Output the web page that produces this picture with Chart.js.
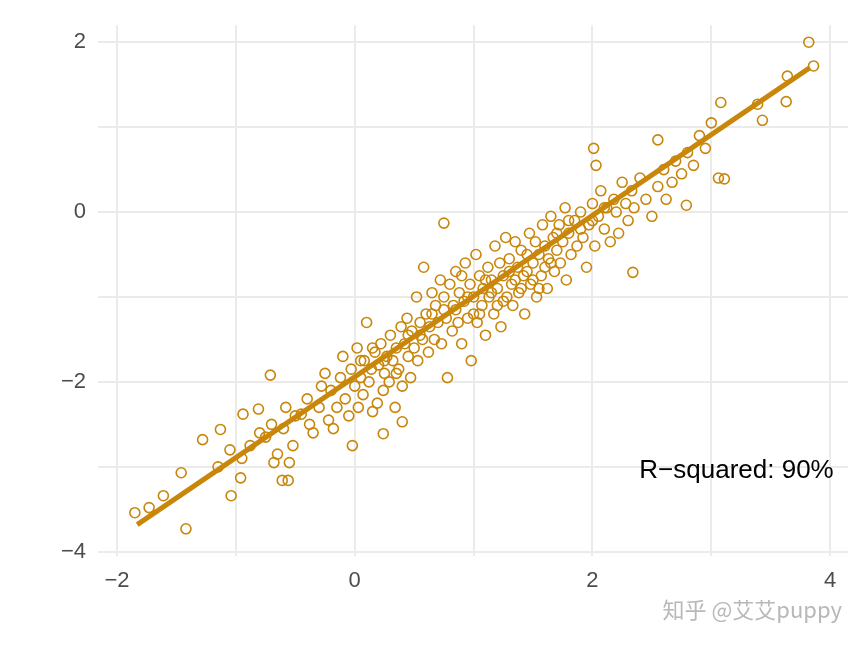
<!DOCTYPE html>
<html><head><meta charset="utf-8">
<script src="https://cdn.jsdelivr.net/npm/chart.js@4"></script>
<style>html,body{margin:0;padding:0;background:#fff}#w{width:864px;height:648px}</style>
</head><body><div id="w"><canvas id="c"></canvas></div>
<script>
const xValues=[3.82,3.86,3.64,3.39,3.63,3.43,3.08,3.06,3.11,2.79,2.34,0.75,-1.42,-1.85,-1.73,-1.61,-1.46,-1.28,-1.13,-0.94,-0.81,-0.71,-1.04,-0.96,-0.61,-0.56,-0.02,0.24,0.40,2.01,2.03,2.55,
-1.15,-1.05,-0.95,-0.88,-0.8,-0.75,-0.7,-0.68,-0.65,-0.6,-0.58,-0.55,-0.52,-0.5,-0.45,-0.4,-0.38,-0.35,-0.3,-0.28,-0.25,-0.22,-0.2,-0.18,-0.15,-0.12,-0.1,-0.08,-0.05,-0.03,0.0,0.02,0.03,0.05,0.07,0.08,0.1,0.12,0.14,0.15,0.17,0.19,0.2,0.22,0.24,0.25,0.27,0.29,0.3,0.32,0.34,0.35,0.37,0.39,0.4,0.42,0.44,0.45,0.47,0.48,0.5,0.52,0.53,0.55,0.57,0.58,0.6,0.62,0.63,0.65,0.67,0.68,0.7,0.72,0.73,0.75,0.77,0.78,0.8,0.82,0.83,0.85,0.87,0.88,0.9,0.92,0.93,0.95,0.97,0.98,1.0,1.02,1.03,1.05,1.07,1.08,1.1,1.12,1.13,1.15,1.17,1.18,1.2,1.22,1.23,1.25,1.27,1.28,1.3,1.32,1.33,1.35,1.37,1.38,1.4,1.42,1.43,1.45,1.47,1.48,1.5,1.52,1.53,1.55,1.57,1.58,1.6,1.62,1.63,1.65,1.67,1.68,1.7,1.72,1.73,1.75,1.77,1.78,1.8,1.82,1.85,1.87,1.9,1.92,1.95,1.97,2.0,2.02,2.05,2.07,2.1,2.12,2.15,2.18,2.2,2.22,2.25,2.28,2.3,2.33,2.35,2.4,2.45,2.5,2.55,2.6,2.62,2.67,2.7,2.75,2.8,2.85,2.9,2.95,3.0,
0.85,0.95,1.05,1.15,1.25,1.35,1.45,1.55,1.65,0.9,1.0,1.1,1.2,1.3,1.4,1.5,1.6,0.75,0.65,0.55,0.45,0.35,0.25,0.15,0.05,1.7,1.8,1.9,2.0,2.1];
const yValues=[2.0,1.72,1.60,1.27,1.30,1.08,1.29,0.40,0.39,0.08,-0.71,-0.13,-3.73,-3.54,-3.48,-3.34,-3.07,-2.68,-2.56,-2.38,-2.32,-1.92,-3.34,-3.13,-3.16,-3.16,-2.75,-2.61,-2.47,0.75,0.55,0.85,
-3.0,-2.8,-2.9,-2.75,-2.6,-2.65,-2.5,-2.95,-2.85,-2.55,-2.3,-2.95,-2.75,-2.4,-2.38,-2.2,-2.5,-2.6,-2.3,-2.05,-1.9,-2.45,-2.1,-2.55,-2.3,-1.95,-1.7,-2.2,-2.4,-1.85,-2.05,-1.6,-2.3,-1.95,-2.15,-1.75,-1.3,-2.0,-1.85,-2.35,-1.65,-2.25,-1.8,-1.55,-2.1,-1.9,-1.7,-2.0,-1.45,-1.75,-2.3,-1.6,-1.85,-1.35,-2.05,-1.55,-1.25,-1.7,-1.95,-1.4,-1.6,-1.0,-1.75,-1.3,-1.5,-0.65,-1.2,-1.65,-1.35,-0.95,-1.5,-1.1,-1.3,-0.8,-1.55,-1.0,-1.25,-1.95,-0.85,-1.4,-1.1,-0.7,-1.3,-0.95,-1.55,-1.05,-0.6,-1.25,-0.85,-1.75,-1.0,-0.5,-1.3,-0.75,-1.1,-0.9,-1.45,-0.65,-1.0,-0.8,-1.2,-0.4,-0.9,-0.6,-1.35,-0.75,-0.3,-1.0,-0.55,-0.85,-1.1,-0.35,-0.65,-0.95,-0.45,-0.75,-1.2,-0.5,-0.25,-0.85,-0.6,-0.35,-1.0,-0.5,-0.75,-0.15,-0.4,-0.9,-0.55,-0.05,-0.3,-0.7,-0.45,-0.15,-0.6,-0.35,0.05,-0.8,-0.25,-0.5,-0.1,-0.4,0.0,-0.3,-0.65,-0.15,0.1,-0.4,-0.05,0.25,-0.2,0.05,-0.35,0.15,0.0,-0.25,0.35,0.1,-0.1,0.25,0.05,0.4,0.15,-0.05,0.3,0.5,0.15,0.35,0.6,0.45,0.7,0.55,0.9,0.75,1.05,
-1.15,-1.0,-1.2,-0.95,-1.05,-0.8,-0.7,-0.9,-0.6,-0.75,-1.2,-0.8,-1.1,-0.7,-0.9,-0.8,-0.65,-1.15,-1.2,-1.45,-1.45,-1.9,-1.75,-1.6,-1.75,-0.25,-0.1,-0.2,-0.1,0.05];
const fitX=[-1.83,3.83];
const fitY=[-3.68,1.70];
const xTicks=[-2,0,2,4];
const yTicks=[-4,-2,0,2];
const col='#C8860A';
const pts=xValues.map((x,i)=>({x:x,y:yValues[i]}));
const ann={id:'ann',afterDraw(ch){const c=ch.ctx,xs=ch.scales.x,ys=ch.scales.y;c.save();
c.fillStyle='#000';c.font='26px "Liberation Sans", Arial';c.textAlign='right';c.textBaseline='middle';
c.fillText('R\u2212squared: 90%',xs.getPixelForValue(4.03),ys.getPixelForValue(-3.05));
c.fillStyle='rgba(160,160,160,0.75)';c.font='22px "Noto Sans CJK SC"';c.fillText('知乎 @艾艾puppy',842,610);c.restore();}};
new Chart(document.getElementById('c'),{type:'scatter',
data:{datasets:[
{data:fitX.map((x,i)=>({x:x,y:fitY[i]})),type:'line',borderColor:col,borderWidth:5,pointRadius:0,order:0},
{data:pts,pointStyle:'circle',pointRadius:5,pointBorderWidth:1.6,borderColor:col,backgroundColor:'rgba(0,0,0,0)',order:1,clip:false}]},
options:{responsive:true,maintainAspectRatio:false,animation:false,
layout:{padding:{left:0,right:16,top:0,bottom:0}},
plugins:{legend:{display:false},tooltip:{enabled:false}},
scales:{
x:{type:'linear',min:-2.16,max:4.15,afterBuildTicks(a){a.ticks=[-2,-1,0,1,2,3,4].map(v=>({value:v}));},
ticks:{callback:v=>xTicks.includes(v)?String(v).replace('-','\u2212'):'',color:'#4d4d4d',font:{size:22,family:'"Liberation Sans", Arial'},maxRotation:0,padding:12},
grid:{color:'#ebebeb',lineWidth:2,drawTicks:false},border:{display:false},afterFit(a){a.height=92;}},
y:{type:'linear',min:-4.05,max:2.2,afterBuildTicks(a){a.ticks=[-4,-3,-2,-1,0,1,2].map(v=>({value:v}));},
ticks:{callback:v=>yTicks.includes(v)?String(v).replace('-','\u2212'):'',color:'#4d4d4d',font:{size:22,family:'"Liberation Sans", Arial'},padding:12},
grid:{color:'#ebebeb',lineWidth:2,drawTicks:false},border:{display:false},afterFit(a){a.width=98;}}}},
plugins:[ann]});
</script></body></html>
